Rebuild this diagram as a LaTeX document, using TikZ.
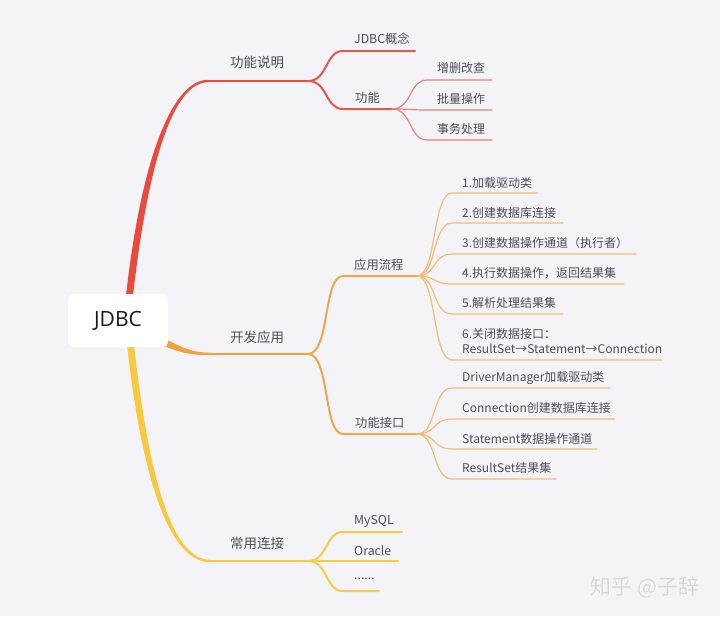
\documentclass[tikz,border=0pt]{standalone}
\usepackage{fontspec}
\setmainfont{Noto Sans CJK SC}
\newfontfamily\rootfont{Open Sans}
\definecolor{bgc}{HTML}{F4F4F8}
\definecolor{ctext}{HTML}{4D4D55}
\definecolor{redA}{HTML}{E84A3C}
\definecolor{redB}{HTML}{E4574B}
\definecolor{redC}{HTML}{E9807A}
\definecolor{orA}{HTML}{F0A23F}
\definecolor{orB}{HTML}{F2A64A}
\definecolor{orC}{HTML}{F5BC70}
\definecolor{yeA}{HTML}{F8C93E}
\definecolor{yeB}{HTML}{F8CB48}
\definecolor{yeC}{HTML}{F9D164}
\definecolor{wmark}{HTML}{D6D6DC}
\begin{document}
\begin{tikzpicture}[x=1pt,y=-1pt,
  lvone/.style={inner sep=0, anchor=center, text=ctext, font=\fontsize{13.5}{16}\selectfont},
  lvtwo/.style={inner sep=0, anchor=west, text=ctext, font=\fontsize{12.3}{15}\selectfont},
  leaf/.style={inner sep=0, anchor=west, text=ctext, font=\fontsize{12}{15}\selectfont, align=left},
  mainline/.style={line width=2.5pt, line cap=round},
  subline/.style={line width=2pt, line cap=round},
  leafline/.style={line width=1.2pt, line cap=round},
  rootbox/.style={fill=white, rounded corners=5pt, minimum width=100pt, minimum height=53pt, inner sep=0, font=\rootfont\fontsize{21}{24}\selectfont, text=black!90}
]
\fill[bgc] (0,0) rectangle (720,616);
\useasboundingbox (0,0) rectangle (720,616);

% coordinates of branch lines
\coordinate (b1s) at (207,81);  \coordinate (b1e) at (308,81);
\coordinate (b2s) at (210,354); \coordinate (b2e) at (308,354);
\coordinate (b3s) at (210,561); \coordinate (b3e) at (308,561);

\coordinate (c11s) at (343,51);  \coordinate (c11e) at (415,51);
\coordinate (c12s) at (343,109); \coordinate (c12e) at (392,109);
\coordinate (d1s) at (427,80);  \coordinate (d1e) at (492,80);
\coordinate (d2s) at (427,110); \coordinate (d2e) at (492,110);
\coordinate (d3s) at (427,140); \coordinate (d3e) at (492,140);

\coordinate (c21s) at (343,276); \coordinate (c21e) at (417,276);
\coordinate (c22s) at (343,434); \coordinate (c22e) at (417,434);
\coordinate (e1s) at (452,193); \coordinate (e1e) at (538,193);
\coordinate (e2s) at (452,223); \coordinate (e2e) at (563,223);
\coordinate (e3s) at (452,254); \coordinate (e3e) at (636,254);
\coordinate (e4s) at (452,284); \coordinate (e4e) at (624,284);
\coordinate (e5s) at (452,314); \coordinate (e5e) at (563,314);
\coordinate (e6s) at (452,360); \coordinate (e6e) at (662,360);
\coordinate (f1s) at (452,388); \coordinate (f1e) at (610,388);
\coordinate (f2s) at (452,419); \coordinate (f2e) at (615,419);
\coordinate (f3s) at (452,449); \coordinate (f3e) at (597,449);
\coordinate (f4s) at (452,479); \coordinate (f4e) at (556,479);

\coordinate (c31s) at (343,532); \coordinate (c31e) at (402,532);
\coordinate (c32s) at (343,561); \coordinate (c32e) at (398,561);
\coordinate (c33s) at (343,591); \coordinate (c33e) at (379,591);

% main tapered branches
\fill[redA] (125.5,300) .. controls (142,149) and (175,79.8) .. (208,79.8) -- (208,82.2) .. controls (176,82.2) and (149,151) .. (132.5,300) -- cycle;
\fill[orA] (160,336.5) .. controls (182,347) and (190,352.8) .. (212,352.8) -- (212,355.2) .. controls (188,355.2) and (178,352) .. (158,343.5) -- cycle;
\fill[yeA] (126.5,340) .. controls (141.5,480) and (170,562.2) .. (210,562.2) -- (210,559.8) .. controls (172,559.8) and (148.5,478) .. (133.5,340) -- cycle;

\draw[redA, mainline] (b1s) -- (b1e);
\draw[orA, mainline] (b2s) -- (b2e);
\draw[yeA, mainline] (b3s) -- (b3e);

% branch 1
\draw[redB, subline] (b1e) .. controls +(20,0) and +(-18,0) .. (c11s) -- (c11e);
\draw[redB, subline] (b1e) .. controls +(20,0) and +(-18,0) .. (c12s) -- (c12e);
\foreach \i in {1,2,3} \draw[redC, leafline] (c12e) .. controls +(20,0) and +(-18,0) .. (d\i s) -- (d\i e);

% branch 2
\draw[orB, subline] (b2e) .. controls +(22,0) and +(-20,0) .. (c21s) -- (c21e);
\draw[orB, subline] (b2e) .. controls +(22,0) and +(-20,0) .. (c22s) -- (c22e);
\foreach \i in {1,...,6} \draw[orC, leafline] (c21e) .. controls +(20,0) and +(-20,0) .. (e\i s) -- (e\i e);
\foreach \i in {1,...,4} \draw[orC, leafline] (c22e) .. controls +(20,0) and +(-20,0) .. (f\i s) -- (f\i e);

% branch 3
\foreach \i in {1,2,3} \draw[yeB, subline] (b3e) .. controls +(20,0) and +(-18,0) .. (c3\i s) -- (c3\i e);

% root
\node[rootbox] (root) at (118,320.5) {JDBC};

% labels
\node[lvone] (n1) at (257,62) {功能说明};
\node[lvone] (n2) at (257,337) {开发应用};
\node[lvone] (n3) at (257,543) {常用连接};

\node[lvtwo] (n11) at (354,39) {JDBC概念};
\node[lvtwo] (n12) at (355,98) {功能};
\node[leaf] (n121) at (437,68) {增删改查};
\node[leaf] (n122) at (437,99) {批量操作};
\node[leaf] (n123) at (437,129) {事务处理};

\node[lvtwo] (n21) at (354,265) {应用流程};
\node[lvtwo] (n22) at (355,423) {功能接口};
\node[leaf] (n211) at (462,183) {1.加载驱动类};
\node[leaf] (n212) at (462,213) {2.创建数据库连接};
\node[leaf] (n213) at (462,243) {3.创建数据操作通道（执行者）};
\node[leaf] (n214) at (462,273) {4.执行数据操作，返回结果集};
\node[leaf] (n215) at (462,303) {5.解析处理结果集};
\node[leaf] (n216) at (462,341) {6.关闭数据接口：\\ResultSet→Statement→Connection};
\node[leaf] (n221) at (462,378) {DriverManager加载驱动类};
\node[leaf] (n222) at (462,408) {Connection创建数据库连接};
\node[leaf] (n223) at (462,439) {Statement数据操作通道};
\node[leaf] (n224) at (462,468) {ResultSet结果集};

\node[lvtwo] (n31) at (354,521) {MySQL};
\node[lvtwo] (n32) at (354,551) {Oracle};
\node[lvtwo] (n33) at (354,579) {......};

% watermark
\node[text=white, font=\fontsize{21}{24}\selectfont, inner sep=0] (wm2) at (645.8,587.8) {知乎 @子辞};
\node[text=wmark, font=\fontsize{21}{24}\selectfont, inner sep=0] (wm) at (645,587) {知乎 @子辞};
\end{tikzpicture}
\end{document}
